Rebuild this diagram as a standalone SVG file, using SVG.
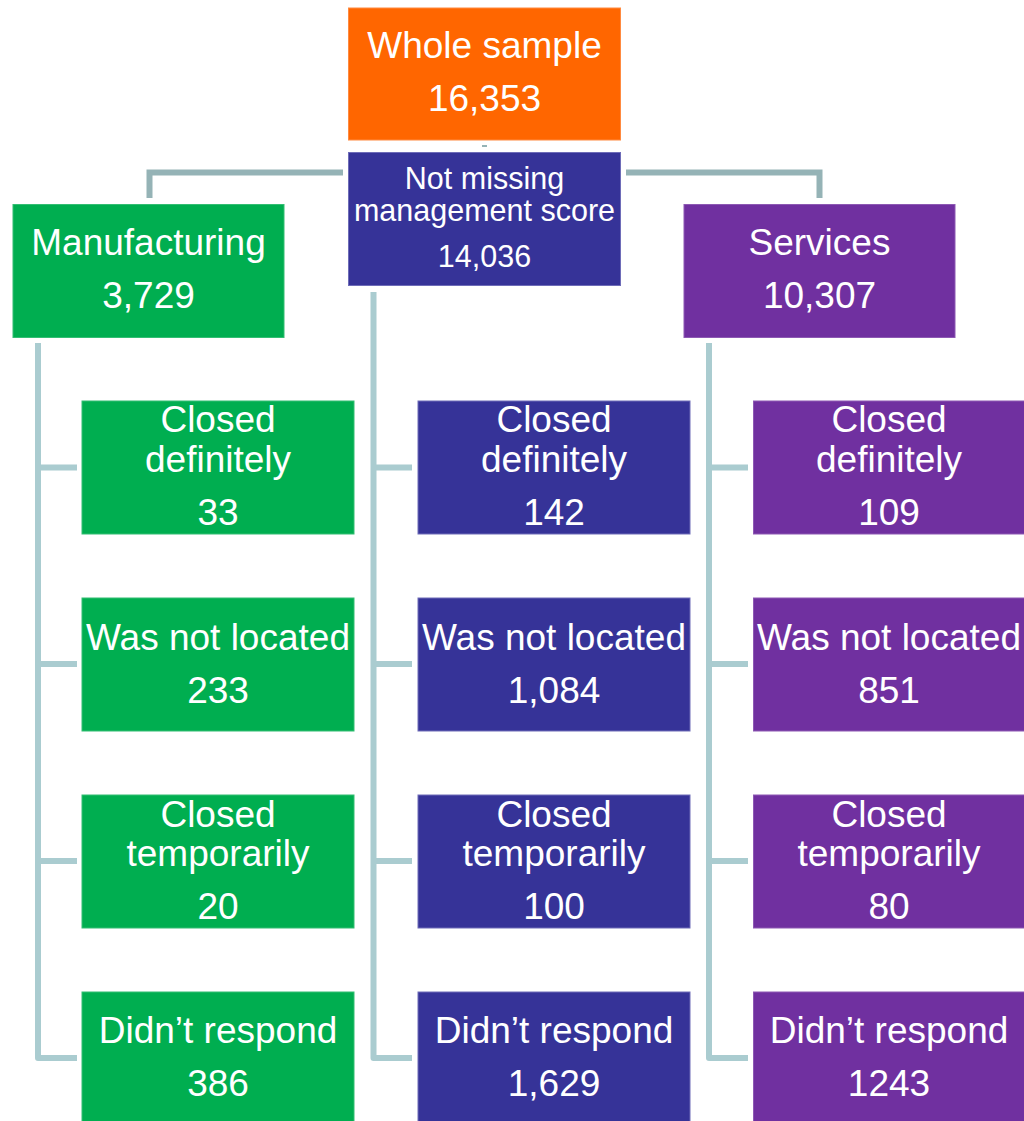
<svg xmlns="http://www.w3.org/2000/svg" width="1024" height="1121" viewBox="0 0 1024 1121">
<style>
  .t { font-family: "Liberation Sans", Arial, sans-serif; fill: #FFFFFF; text-anchor: middle; font-size: 37px; }
  .ts { font-family: "Liberation Sans", Arial, sans-serif; fill: #FFFFFF; text-anchor: middle; font-size: 30.5px; }
  .orange { fill: #FF6600; stroke: #FF8A40; stroke-width: 1; }
  .green { fill: #00AE50; stroke: #33BE73; stroke-width: 1; }
  .blue { fill: #363398; stroke: #6E6CB8; stroke-width: 1; }
  .purple { fill: #7030A0; stroke: #8D59B3; stroke-width: 1; }
  .top { fill: none; stroke: #95B3B6; stroke-width: 6; }
  .tree { fill: none; stroke: #AACCD0; stroke-width: 6; stroke-linejoin: round; }
</style>
<rect width="1024" height="1121" fill="#FFFFFF"/>
<g id="connectors">
  <line x1="484.5" y1="145" x2="484.5" y2="147" stroke="#95B3B6" stroke-width="5"/>
  <path class="top" d="M343,172.5 H149.5 V198"/>
  <path class="top" d="M626,172.5 H819.5 V198"/>
  <path class="tree" d="M38,343 V1058 H77 M38,467.5 H77 M38,664 H77 M38,861 H77"/>
  <path class="tree" d="M373.5,292 V1058 H412 M373.5,467.5 H412 M373.5,664 H412 M373.5,861 H412"/>
  <path class="tree" d="M709,343 V1058 H748 M709,467.5 H748 M709,664 H748 M709,861 H748"/>
</g>
<g id="whole-sample">
  <rect class="orange" x="348.5" y="8" width="272" height="132"/>
  <text class="t" x="484.5" y="58">Whole sample</text>
  <text class="t" x="484.5" y="111">16,353</text>
</g>
<g id="not-missing">
  <rect class="blue" x="348.5" y="152.5" width="272" height="133"/>
  <text class="ts" x="484.5" y="189">Not missing</text>
  <text class="ts" x="484.5" y="221">management score</text>
  <text class="ts" x="484.5" y="267">14,036</text>
</g>
<g id="manufacturing">
  <rect class="green" x="13" y="204.5" width="271" height="133"/>
  <text class="t" x="148.5" y="255">Manufacturing</text>
  <text class="t" x="148.5" y="308">3,729</text>
</g>
<g id="services">
  <rect class="purple" x="684" y="204.5" width="271" height="133"/>
  <text class="t" x="819.5" y="255">Services</text>
  <text class="t" x="819.5" y="308">10,307</text>
</g>
<g id="m-closed-def">
  <rect class="green" x="82" y="401" width="272" height="133"/>
  <text class="t" x="218" y="432">Closed</text>
  <text class="t" x="218" y="472">definitely</text>
  <text class="t" x="218" y="525">33</text>
</g>
<g id="m-not-located">
  <rect class="green" x="82" y="598" width="272" height="133"/>
  <text class="t" x="218" y="650">Was not located</text>
  <text class="t" x="218" y="703">233</text>
</g>
<g id="m-closed-temp">
  <rect class="green" x="82" y="795" width="272" height="133"/>
  <text class="t" x="218" y="827">Closed</text>
  <text class="t" x="218" y="866">temporarily</text>
  <text class="t" x="218" y="919">20</text>
</g>
<g id="m-no-response">
  <rect class="green" x="82" y="992" width="272" height="140"/>
  <text class="t" x="218" y="1043">Didn’t respond</text>
  <text class="t" x="218" y="1096">386</text>
</g>
<g id="n-closed-def">
  <rect class="blue" x="418" y="401" width="272" height="133"/>
  <text class="t" x="554" y="432">Closed</text>
  <text class="t" x="554" y="472">definitely</text>
  <text class="t" x="554" y="525">142</text>
</g>
<g id="n-not-located">
  <rect class="blue" x="418" y="598" width="272" height="133"/>
  <text class="t" x="554" y="650">Was not located</text>
  <text class="t" x="554" y="703">1,084</text>
</g>
<g id="n-closed-temp">
  <rect class="blue" x="418" y="795" width="272" height="133"/>
  <text class="t" x="554" y="827">Closed</text>
  <text class="t" x="554" y="866">temporarily</text>
  <text class="t" x="554" y="919">100</text>
</g>
<g id="n-no-response">
  <rect class="blue" x="418" y="992" width="272" height="140"/>
  <text class="t" x="554" y="1043">Didn’t respond</text>
  <text class="t" x="554" y="1096">1,629</text>
</g>
<g id="s-closed-def">
  <rect class="purple" x="753.5" y="401" width="272" height="133"/>
  <text class="t" x="889" y="432">Closed</text>
  <text class="t" x="889" y="472">definitely</text>
  <text class="t" x="889" y="525">109</text>
</g>
<g id="s-not-located">
  <rect class="purple" x="753.5" y="598" width="272" height="133"/>
  <text class="t" x="889" y="650">Was not located</text>
  <text class="t" x="889" y="703">851</text>
</g>
<g id="s-closed-temp">
  <rect class="purple" x="753.5" y="795" width="272" height="133"/>
  <text class="t" x="889" y="827">Closed</text>
  <text class="t" x="889" y="866">temporarily</text>
  <text class="t" x="889" y="919">80</text>
</g>
<g id="s-no-response">
  <rect class="purple" x="753.5" y="992" width="272" height="140"/>
  <text class="t" x="889" y="1043">Didn’t respond</text>
  <text class="t" x="889" y="1096">1243</text>
</g>
</svg>
